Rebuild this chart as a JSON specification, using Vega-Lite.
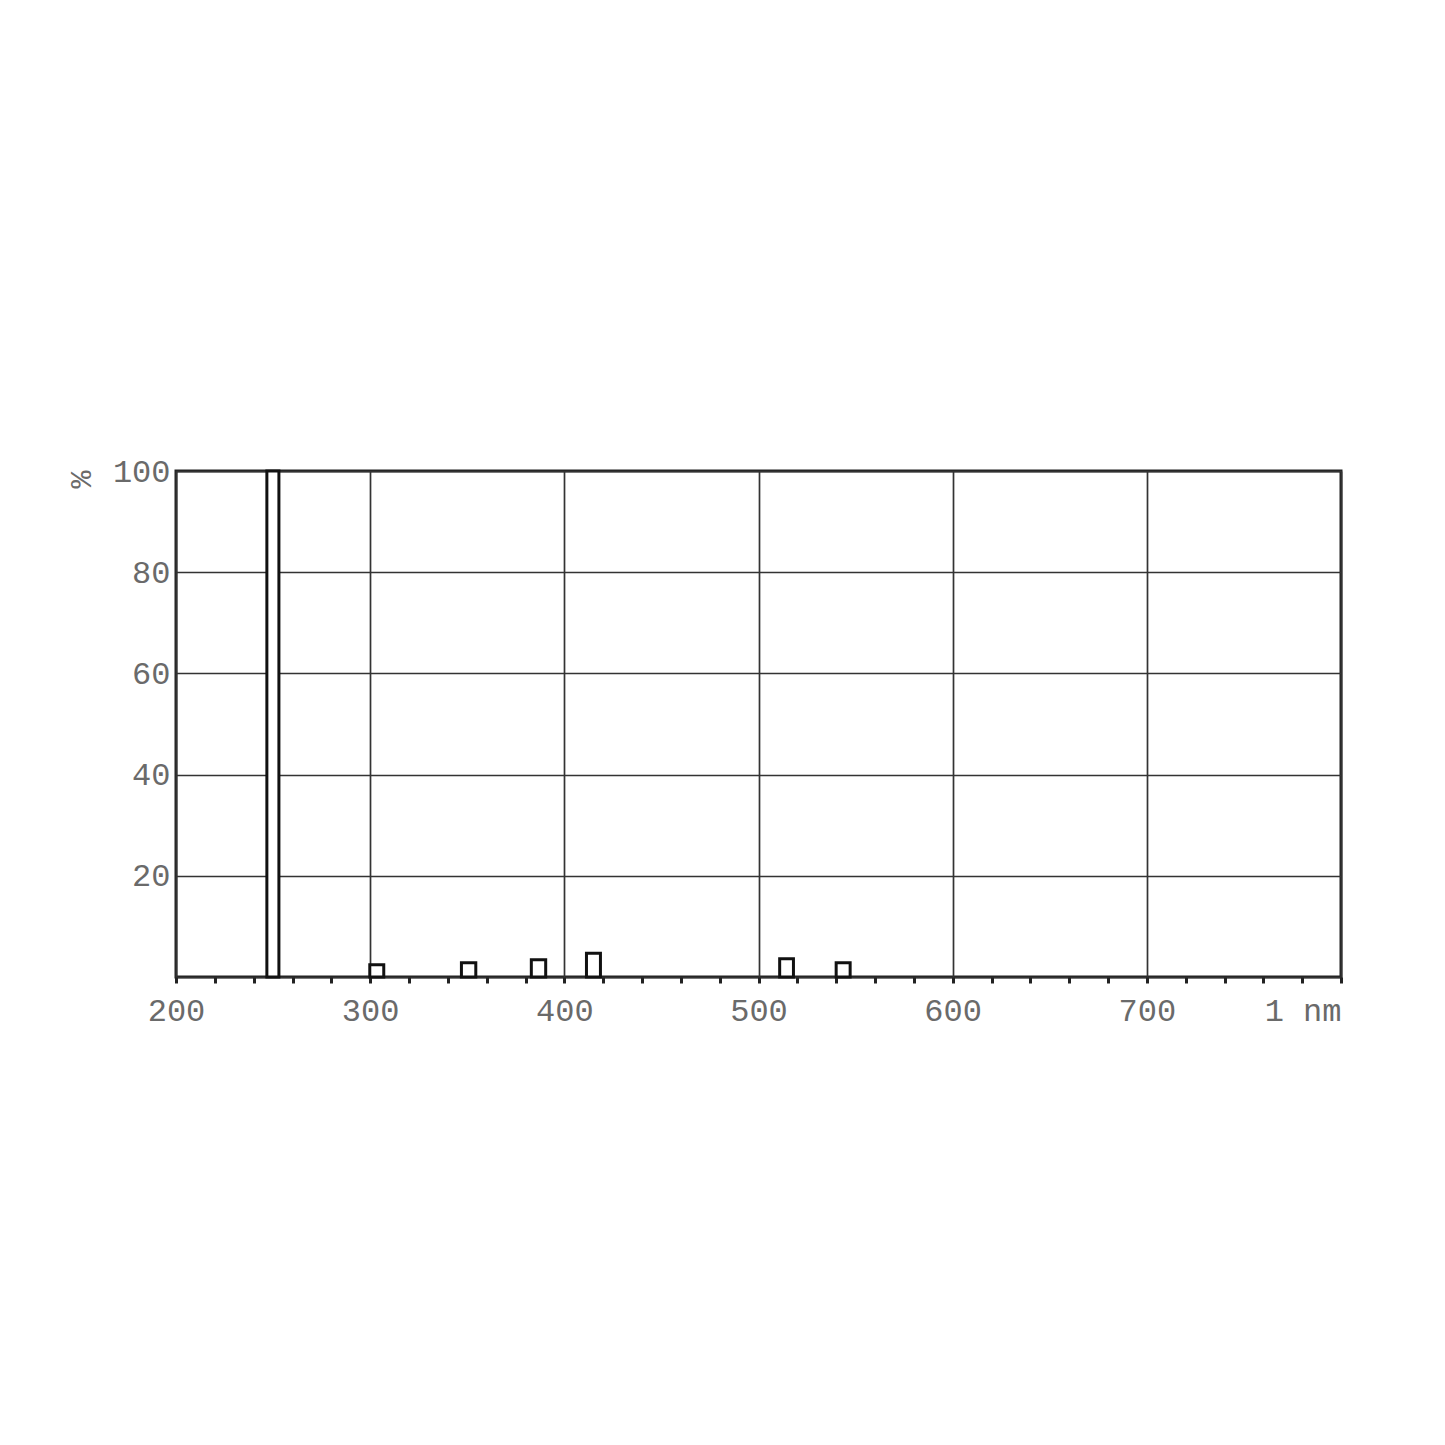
{
  "$schema": "https://vega.github.io/schema/vega-lite/v6.json",
  "autosize": "none",
  "width": 1165,
  "height": 506,
  "padding": {"left": 176, "top": 471, "right": 104, "bottom": 468},
  "background": "white",
  "config": {
    "view": {"stroke": "#222", "strokeWidth": 3},
    "axis": {
      "labelFont": "Liberation Mono",
      "labelFontSize": 32,
      "labelColor": "#6a6a6a",
      "domain": false,
      "gridColor": "#333",
      "gridWidth": 1.7
    }
  },
  "data": {
    "values": [
      {"start": 246.8, "end": 253.0, "pct": 100},
      {"start": 299.8, "end": 307.0, "pct": 2.4},
      {"start": 347.0, "end": 354.4, "pct": 2.8},
      {"start": 383.0, "end": 390.4, "pct": 3.4},
      {"start": 411.4, "end": 418.6, "pct": 4.7},
      {"start": 510.9, "end": 518.0, "pct": 3.6},
      {"start": 540.0, "end": 547.2, "pct": 2.8}
    ]
  },
  "mark": {"type": "rect", "fill": "white", "stroke": "#111", "strokeWidth": 3},
  "encoding": {
    "x": {
      "field": "start",
      "type": "quantitative",
      "scale": {"domain": [200, 800], "nice": false, "zero": false},
      "axis": {
        "title": null,
        "values": [200, 220, 240, 260, 280, 300, 320, 340, 360, 380, 400, 420, 440, 460, 480, 500, 520, 540, 560, 580, 600, 620, 640, 660, 680, 700, 720, 740, 760, 780, 800],
        "labelExpr": "datum.value == 800 ? '1 nm' : (datum.value % 100 == 0 ? datum.label : '')",
        "labelFlush": false,
        "labelOverlap": false,
        "labelBound": false,
        "labelAlign": {"condition": {"test": "datum.value == 800", "value": "right"}, "value": "center"},
        "labelPadding": 12,
        "tickSize": 6,
        "tickWidth": 3,
        "tickColor": "#222",
        "gridOpacity": {"condition": {"test": "datum.value % 100 == 0", "value": 1}, "value": 0}
      }
    },
    "x2": {"field": "end"},
    "y": {
      "field": "pct",
      "type": "quantitative",
      "scale": {"domain": [0, 100], "nice": false},
      "axis": {
        "values": [0, 20, 40, 60, 80, 100],
        "labelExpr": "datum.value == 0 ? '' : datum.label",
        "labelFlush": false,
        "ticks": false,
        "labelPadding": 6,
        "title": "%",
        "titleFont": "Liberation Mono",
        "titleFontSize": 30,
        "titleFontWeight": "normal",
        "titleColor": "#6a6a6a",
        "titleAngle": 90,
        "titleX": -112,
        "titleY": 8
      }
    },
    "y2": {"datum": 0}
  }
}
